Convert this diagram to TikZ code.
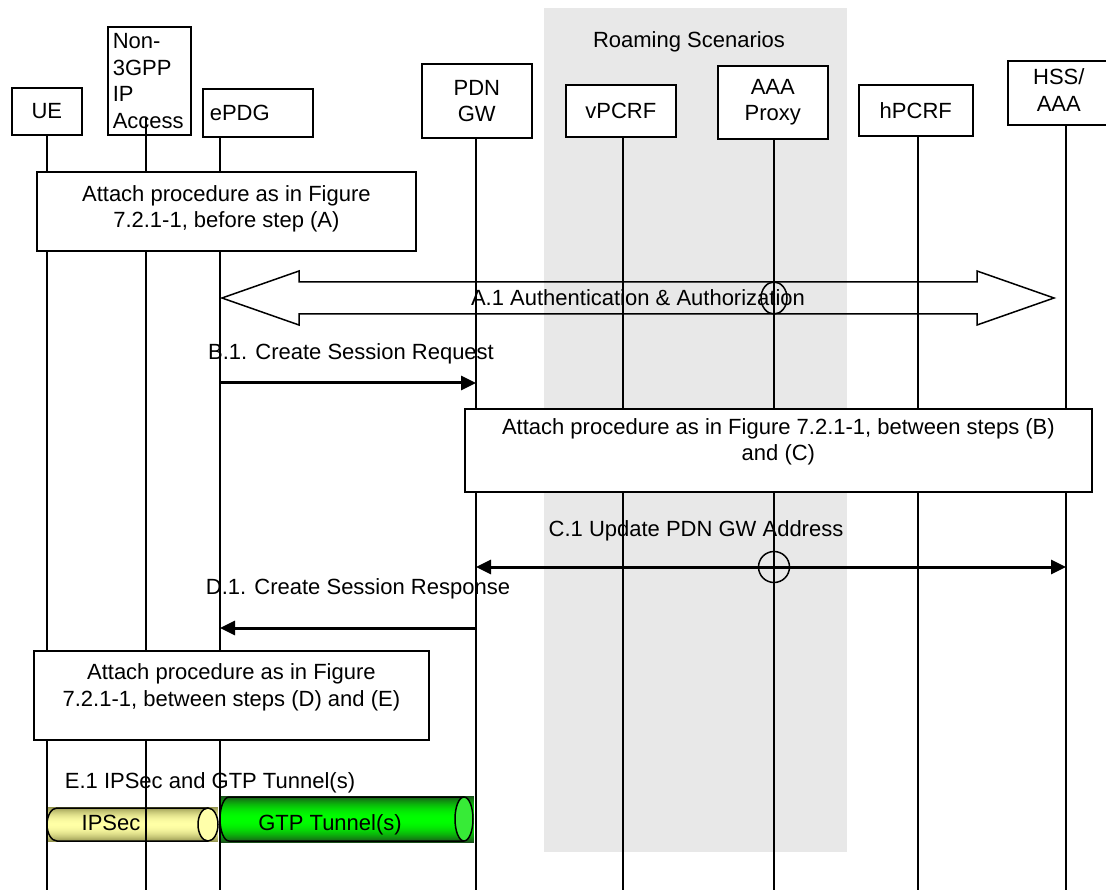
\documentclass[tikz,border=0pt]{standalone}
\usepackage{fontspec}
\setmainfont{Liberation Sans}
\usepackage{tikz}
\usetikzlibrary{arrows.meta,positioning,calc}
\definecolor{RoamGray}{RGB}{232,232,232}
\definecolor{IPSecLight}{RGB}{255,255,165}
\definecolor{IPSecDark}{RGB}{150,150,80}
\definecolor{IPSecEnd}{RGB}{255,255,170}
\definecolor{TunnelGreen}{RGB}{0,255,0}
\definecolor{TunnelDark}{RGB}{25,80,25}
\definecolor{TunnelEnd}{RGB}{55,235,55}

\begin{document}
\begin{tikzpicture}[x=1pt, y=-1pt, >={Triangle[length=15pt,width=14pt]}, font=\fontsize{22}{26.5}\selectfont,
    entity/.style={draw, fill=white, line width=1.6pt, inner sep=0pt, align=center, anchor=north west},
    procbox/.style={draw, fill=white, line width=1.8pt, inner sep=0pt, anchor=north west},
    life/.style={line width=1.4pt},
    msg/.style={->, line width=3pt}]
      \useasboundingbox (0,0) rectangle (1106,890);
      \fill[RoamGray] (544,8) rectangle (847,852);
      \node (roaming) at (689,42) {Roaming Scenarios};
      \foreach \n/\x in {ue/47, non3gpp/146, epdg/220, pdngw/476, vpcrf/623, aaaproxy/774, hpcrf/918, hss/1066}
        \coordinate (l-\n) at (\x,0);
      % tunnels of step E.1
      \foreach \i in {0,...,34} {
        \pgfmathsetmacro{\mix}{100*(1-((\i-17)/17)^2)}
        \fill[IPSecLight!\mix!IPSecDark] (47,807+\i) rectangle (218,808.3+\i);
      }
      \foreach \i in {0,...,46} {
        \pgfmathsetmacro{\mix}{100*(1-((\i-23)/23)^2)}
        \fill[TunnelGreen!\mix!TunnelDark] (219,796+\i) rectangle (474,797.3+\i);
      }
      \draw[line width=1.5pt] (208,808) -- (57,808) arc[start angle=-90, end angle=-270, x radius=10, y radius=16.5] -- (208,841);
      \draw[line width=1.5pt, fill=IPSecEnd] (208,824.5) ellipse [x radius=10, y radius=16.5];
      \draw[line width=1.5pt] (464,797) -- (229,797) arc[start angle=-90, end angle=-270, x radius=9, y radius=22] -- (464,841);
      \draw[line width=1.5pt, fill=TunnelEnd] (464,819) ellipse [x radius=9, y radius=22];
      \node (ipsec) at (111,823) {IPSec};
      \node (gtp) at (330,825) {GTP Tunnel(s)};
      \node[entity, minimum width=70, minimum height=47] (ue) at (11,87) {UE};
      \node[entity, minimum width=83, minimum height=108, text width=73, align=left] (non3gpp) at (107,26) {Non-\\3GPP\\IP\\Access};
      \node[entity, minimum width=110, minimum height=48, text width=96, align=left] (epdg) at (202,88) {ePDG};
      \node[entity, minimum width=110, minimum height=74] (pdngw) at (421,63) {PDN\\GW};
      \node[entity, minimum width=110, minimum height=52] (vpcrf) at (565,84) {vPCRF};
      \node[entity, minimum width=110, minimum height=73] (aaaproxy) at (717,65) {AAA\\Proxy};
      \node[entity, minimum width=114, minimum height=51] (hpcrf) at (858,84) {hPCRF};
      \node[entity, minimum width=120, minimum height=64] (hss) at (1007,60) {\begin{tabular}{@{}c@{}}HSS/\\AAA\end{tabular}\hspace{18pt}};
      \foreach \n in {ue, epdg, pdngw, vpcrf, aaaproxy, hpcrf, hss}
        \draw[life] (l-\n |- \n.south) -- (l-\n |- 0,890);
      \draw[life] (l-non3gpp |- 0,118) -- (l-non3gpp |- 0,890);
      % procedure boxes
      \node[procbox, minimum width=379, minimum height=79] (att1) at (36,171) {};
      \node[align=center] (att1txt) at ($(att1.center)+(0,-2.5)$) {Attach procedure as in Figure\\7.2.1-1, before step (A)};
      \node[procbox, minimum width=627, minimum height=83] (att2) at (464,408) {};
      \node[align=center] (att2txt) at ($(att2.center)+(0,-8.5)$) {Attach procedure as in Figure 7.2.1-1, between steps (B)\\and (C)};
      \node[procbox, minimum width=395, minimum height=89] (att3) at (33,650) {};
      \node[align=center] (att3txt) at ($(att3.center)+(0,-8)$) {Attach procedure as in Figure\\7.2.1-1, between steps (D) and (E)};
      % A.1
      \coordinate (a1l) at ($(l-epdg |- 0,298)+(2,0)$);
      \coordinate (a1r) at ($(l-hss |- 0,298)+(-12,0)$);
      \draw[line width=1.5pt] (a1l) -- ++(77,-27) -- ++(0,11) -- ($(a1r)+(-77,-16)$) -- ++(0,-11) -- (a1r)
        -- ++(-77,27) -- ++(0,-11) -- ($(a1l)+(77,16)$) -- ++(0,11) -- cycle;
      \draw[line width=1.5pt] (l-aaaproxy |- 0,298) ellipse [x radius=13, y radius=16];
      \node (a1lbl) at (638,298) {A.1 Authentication \& Authorization};
      % B.1 to E.1
      \node (b1lbl) at (351,354) {B.1. Create Session Request};
      \draw[msg] (l-epdg |- 0,383) -- (l-pdngw |- 0,383);
      \node (c1lbl) at (696,531) {C.1 Update PDN GW Address};
      \draw[msg, <->] (l-pdngw |- 0,567) -- (l-hss |- 0,567);
      \node[circle, draw, line width=1.5pt, minimum size=31pt, inner sep=0pt] (c1hop) at (l-aaaproxy |- 0,567) {};
      \node (d1lbl) at (358,589) {D.1. Create Session Response};
      \draw[msg] (l-pdngw |- 0,628) -- (l-epdg |- 0,628);
      \node (e1lbl) at (210,783) {E.1 IPSec and GTP Tunnel(s)};
    \end{tikzpicture}
\end{document}
